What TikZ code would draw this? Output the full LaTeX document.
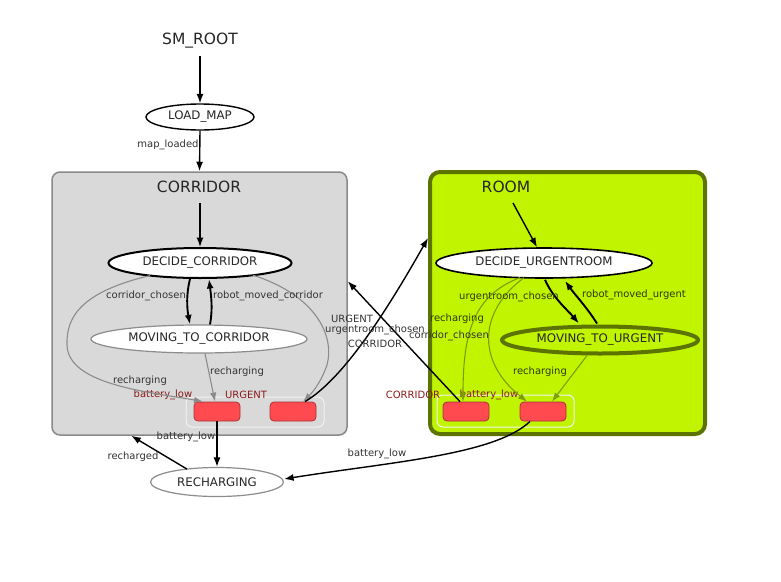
\documentclass[tikz,border=0pt]{standalone}
\usepackage{fontspec}
\setmainfont{DejaVu Sans}
\usetikzlibrary{arrows.meta,shapes.geometric,calc}
\definecolor{corrfill}{HTML}{D9D9D9}
\definecolor{corrline}{HTML}{8A8A8A}
\definecolor{roomfill}{HTML}{C0F400}
\definecolor{roomline}{HTML}{5C7300}
\definecolor{redfill}{HTML}{FF4A50}
\definecolor{redline}{HTML}{A83236}
\definecolor{outred}{HTML}{8B1A1A}
\definecolor{grayarr}{HTML}{8C8C8C}
\definecolor{greenarr}{HTML}{7E9E00}
\definecolor{txt}{HTML}{333333}
\definecolor{roomtxt}{HTML}{2E3A00}
\begin{document}
\begin{tikzpicture}[x=1pt,y=-1pt,
  titletxt/.style={font=\fontsize{15.5}{18}\selectfont, text=black!85, inner sep=0pt},
  statenode/.style={ellipse, draw, inner sep=0pt, font=\fontsize{11.8}{14}\selectfont, text=black!85},
  lbl/.style={font=\fontsize{10}{12}\selectfont, text=txt, inner sep=0pt},
  rlbl/.style={font=\fontsize{10}{12}\selectfont, text=roomtxt, inner sep=0pt},
  outlbl/.style={font=\fontsize{10}{12}\selectfont, text=outred, inner sep=0pt},
  outbox/.style={rectangle, rounded corners=4pt, draw=redline, fill=redfill, line width=0.8pt, minimum width=46pt, minimum height=19pt, inner sep=0pt},
  cont/.style={rectangle, rounded corners=6pt, draw=white!95!black, line width=1pt, inner sep=0pt},
  arr/.style={-{Latex[length=9.5pt,width=7pt]}, line width=1.4pt, black},
  tarr/.style={-{Latex[length=9.5pt,width=7pt]}, line width=1.9pt, black},
  garr/.style={-{Latex[length=9pt,width=6.5pt]}, line width=1.1pt, grayarr},
  grarr/.style={-{Latex[length=9pt,width=6.5pt]}, line width=1.1pt, greenarr}
]
\useasboundingbox (0,0) rectangle (781,581);
\fill[white] (0,0) rectangle (781,581);

% containers
\node[rectangle, rounded corners=8pt, draw=corrline, fill=corrfill, line width=1.5pt,
      minimum width=295pt, minimum height=263pt, inner sep=0pt] (corr) at (199.5,303.5) {};
\node[rectangle, rounded corners=10pt, draw=roomline, fill=roomfill, line width=4pt,
      minimum width=275pt, minimum height=262pt, inner sep=0pt] (room) at (567.5,303) {};

\node[cont, minimum width=138pt, minimum height=30pt] (ccont) at (255,412) {};
\node[cont, minimum width=137pt, minimum height=32pt] (rcont) at (505.5,411) {};

% titles
\node[titletxt] (root) at (200,41) {SM\_ROOT};
\node[titletxt] (corrT) at (199,187) {CORRIDOR};
\node[titletxt] (roomT) at (506,187) {ROOM};

% states
\node[statenode, line width=1.4pt, fill=white, minimum width=108pt, minimum height=26pt] (lm) at (200,117) {LOAD\_MAP};
\node[statenode, line width=2pt, fill=white, minimum width=183pt, minimum height=30pt] (dc) at (200,263) {DECIDE\_CORRIDOR};
\node[statenode, draw=grayarr, line width=1.2pt, fill=white, minimum width=216pt, minimum height=28pt] (mc) at (199,339) {MOVING\_TO\_CORRIDOR};
\node[statenode, line width=1.6pt, fill=white, minimum width=216pt, minimum height=30pt] (du) at (544,263) {DECIDE\_URGENTROOM};
\node[statenode, draw=roomline, line width=4pt, minimum width=196pt, minimum height=27pt] (mu) at (600,340) {MOVING\_TO\_URGENT};
\node[statenode, draw=grayarr, line width=1.2pt, fill=white, minimum width=133pt, minimum height=29pt] (rech) at (217,482) {RECHARGING};

% outcome boxes
\node[outbox] (b1) at (217,411.5) {};
\node[outbox] (b2) at (293,411.5) {};
\node[outbox] (bc) at (466,411.5) {};
\node[outbox] (bb) at (543,411.5) {};

% outcome labels
\node[outlbl] (ob1) at (163,395) {battery\_low};
\node[outlbl] (ob2) at (246,395) {URGENT};
\node[outlbl] (obc) at (413,395) {CORRIDOR};
\node[outlbl] (obb) at (489,395) {battery\_low};

% gray transitions inside CORRIDOR
\draw[garr] ($(dc.center)+(-50,12.6)$) .. controls (80,292) and (66,318) .. (67,345)
   .. controls (68,385) and (150,392) .. ($(b1.north)+(-14,0)$);
\draw[garr] ($(mc.south)+(6,0)$) -- ($(b1.north)+(-2,0)$);
\draw[garr] ($(dc.center)+(53,12.2)$) .. controls (315,295) and (335,335) .. (327,365)
   .. controls (320,385) and (310,395) .. ($(b2.north)+(10,0)$);

% green transitions inside ROOM
\draw[grarr] ($(du.center)+(-24,14.6)$) .. controls (475,295) and (463,330) .. ($(bc.north)+(-3,0)$);
\draw[grarr] ($(du.center)+(-20,14.7)$) .. controls (480,310) and (475,360) .. ($(bb.north)+(-16,0)$);
\draw[grarr] ($(mu.south)+(-13,0)$) -- ($(bb.north)+(9,0)$);

% black transitions
\draw[arr] ($(root.center)+(0,15)$) -- (lm.north);
\draw[arr] (lm.south) -- (corr.north);
\draw[arr] ($(corrT.center)+(1,16)$) -- (dc.north);
\draw[arr] ($(roomT.center)+(7,16)$) -- ($(du.north)+(-7,0)$);
\draw[tarr] ($(dc.south)+(-10,0)$) .. controls +(-4,16) and +(-3,-16) .. ($(mc.north)+(-9,0)$);
\draw[tarr] ($(mc.north)+(11,0)$) .. controls +(3,-16) and +(2,16) .. ($(dc.south)+(9,0)$);
\draw[tarr] ($(du.south)+(1,1)$) .. controls +(8,18) and +(-12,-14) .. ($(mu.north)+(-21,-1)$);
\draw[tarr] ($(mu.north)+(-3,-1)$) .. controls +(-10,-16) and +(10,14) .. ($(du.south)+(21,2)$);
\draw[arr] ($(b2.north)+(12,0)$) .. controls (345,378) and (390,305) .. ($(room.north west)+(0,68)$);
\draw[arr] ($(bc.north)+(-6,0)$) -- ($(corr.north east)+(0,110)$);
\draw[arr] (b1.south) -- (rech.north);
\draw[arr] ($(rech.center)+(-30,-12.9)$) -- ($(corr.south west)+(80,0)$);
\draw[arr] ($(bb.south)+(-13,0)$) .. controls (495,455) and (390,462) .. ($(rech.east)+(0,-3)$);

% transition labels
\node[lbl] (l1) at (168,145) {map\_loaded};
\node[lbl] (l2) at (146,296) {corridor\_chosen};
\node[lbl] (l3) at (268,296) {robot\_moved\_corridor};
\node[lbl] (l4) at (140,381) {recharging};
\node[lbl] (l5) at (237,372) {recharging};
\node[lbl] (l6) at (352,319) {URGENT};
\node[lbl] (l7) at (375,330) {urgentroom\_chosen};
\node[lbl] (l8) at (375,344) {CORRIDOR};
\node[rlbl] (l9) at (457,319) {recharging};
\node[lbl] (l10) at (449,336) {corridor\_chosen};
\node[rlbl] (l11) at (509,297) {urgentroom\_chosen};
\node[rlbl] (l12) at (634,295) {robot\_moved\_urgent};
\node[rlbl] (l13) at (540,372) {recharging};
\node[lbl] (l14) at (186,437) {battery\_low};
\node[lbl] (l15) at (133,457) {recharged};
\node[lbl] (l16) at (377,454) {battery\_low};
\end{tikzpicture}
\end{document}
